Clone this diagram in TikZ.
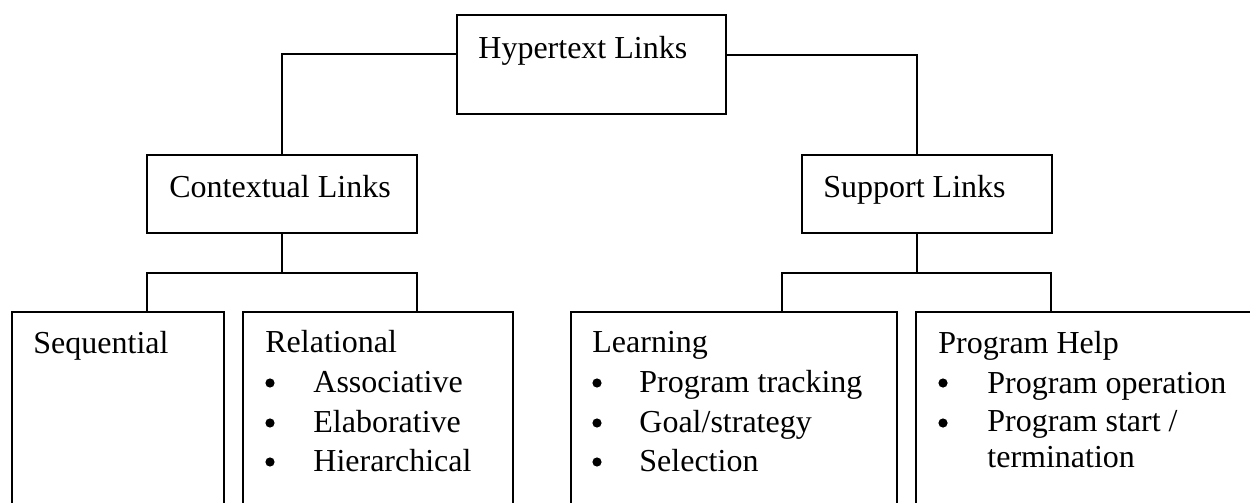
\documentclass[tikz,border=0pt]{standalone}
\usepackage{fontspec}
\setmainfont{Liberation Serif}
\usetikzlibrary{fit,calc}
\tikzset{
  box/.style={draw=black, line width=0.7pt, inner sep=0pt, fill=none},
  wire/.style={draw=black, line width=0.7pt},
  lbl/.style={inner sep=0pt, anchor=base west, font=\fontsize{16}{20}\selectfont},
  dot/.style={circle, fill=black, inner sep=0pt, minimum size=4.6pt},
}
\begin{document}
\begin{tikzpicture}[x=0.5pt, y=-0.5pt]
  \useasboundingbox (0,0) rectangle (1250,503);
  \fill[white] (0,0) rectangle (1250,503);
  \clip (0,0) rectangle (1250,503);

  % boxes
  \node[box, fit={(457,15) (726,114)}] (hyp) {};
  \node[box, fit={(147,155) (417,233)}] (ctx) {};
  \node[box, fit={(802,155) (1052,233)}] (sup) {};
  \node[box, fit={(12,312) (224,530)}] (seq) {};
  \node[box, fit={(243,312) (513,530)}] (rel) {};
  \node[box, fit={(571,312) (897,530)}] (lrn) {};
  \node[box, fit={(916,312) (1280,530)}] (hlp) {};

  % box titles
  \node[lbl] (t-hyp) at (478,58) {Hypertext Links};
  \node[lbl] (t-ctx) at (169,197) {Contextual Links};
  \node[lbl] (t-sup) at (823,197) {Support Links};
  \node[lbl] (t-seq) at (33,353) {Sequential};
  \node[lbl] (t-rel) at (265,352) {Relational};
  \node[lbl] (t-lrn) at (592,352) {Learning};
  \node[lbl] (t-hlp) at (938,353) {Program Help};

  % bullet lists
  \node[dot] (b-rel1) at (270,383) {};
  \node[lbl] (i-rel1) at (313,392) {Associative};
  \node[dot] (b-rel2) at (270,423) {};
  \node[lbl] (i-rel2) at (313,432) {Elaborative};
  \node[dot] (b-rel3) at (270,462) {};
  \node[lbl] (i-rel3) at (313,471) {Hierarchical};

  \node[dot] (b-lrn1) at (597,383) {};
  \node[lbl] (i-lrn1) at (639,392) {Program tracking};
  \node[dot] (b-lrn2) at (597,423) {};
  \node[lbl] (i-lrn2) at (639,432) {Goal/strategy};
  \node[dot] (b-lrn3) at (597,462) {};
  \node[lbl] (i-lrn3) at (639,471) {Selection};

  \node[dot] (b-hlp1) at (943,383) {};
  \node[lbl] (i-hlp1) at (987,393) {Program operation};
  \node[dot] (b-hlp2) at (943,423) {};
  \node[lbl] (i-hlp2) at (987,431) {Program start /};
  \node[lbl] (i-hlp3) at (987,467) {termination};

  % attachment points
  \coordinate (hypL) at ($(hyp.north west)!0.394!(hyp.south west)$);
  \coordinate (hypR) at ($(hyp.north east)!0.404!(hyp.south east)$);
  \coordinate (supTop) at ([xshift=-5pt]sup.north);
  \coordinate (supBot) at ([xshift=-5pt]sup.south);
  \coordinate (cbL) at (147,273);
  \coordinate (cbR) at (417,273);
  \coordinate (sbL) at (782,273);
  \coordinate (sbR) at (1051,273);

  % connectors
  \draw[wire] (hypL) -| (ctx.north);
  \draw[wire] (hypR) -| (supTop);
  \draw[wire] (ctx.south) -- (ctx.south |- cbL);
  \draw[wire] (cbL |- seq.north) -- (cbL) -- (cbR) -- (cbR |- rel.north);
  \draw[wire] (supBot) -- (supBot |- sbL);
  \draw[wire] (sbL |- lrn.north) -- (sbL) -- (sbR) -- (sbR |- hlp.north);
\end{tikzpicture}
\end{document}
